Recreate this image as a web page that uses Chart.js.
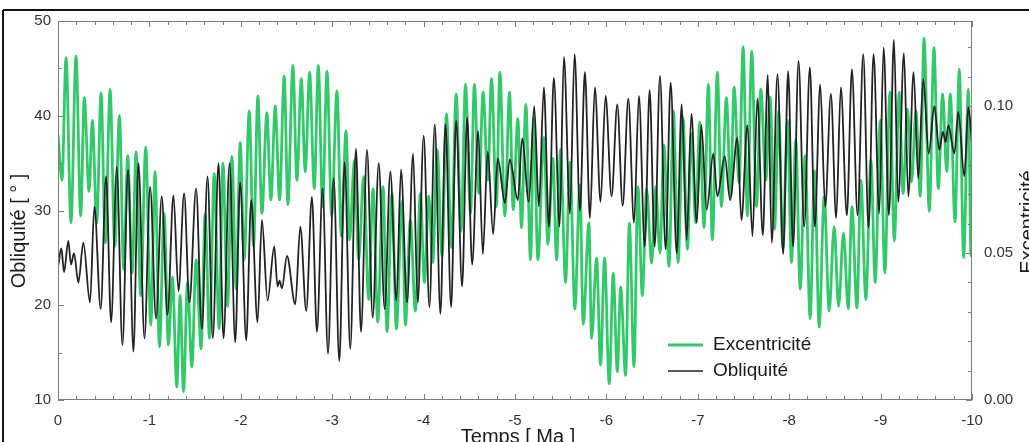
<!DOCTYPE html>
<html>
<head>
<meta charset="utf-8">
<title>Obliquité et excentricité</title>
<script src="https://cdn.jsdelivr.net/npm/chart.js@4.4.1/dist/chart.umd.min.js"></script>
<style>
    html, body { margin: 0; padding: 0; background: #fff; }
    canvas { display: block; }
</style>
</head>
<body>
<canvas id="orbitChart" width="1029" height="442"></canvas>
<script>
// Obliquité (degrés)
const oblTime = [
    0, -0.037, -0.066, -0.113, -0.142, -0.175, -0.223, -0.277, -0.350, -0.398,
    -0.467, -0.526, -0.581, -0.643, -0.705, -0.767, -0.825, -0.880, -0.946, -1.008,
    -1.073, -1.135, -1.198, -1.263, -1.318, -1.380, -1.438, -1.511, -1.574, -1.636,
    -1.694, -1.756, -1.811, -1.877, -1.939, -1.993, -2.059, -2.114, -2.183, -2.231,
    -2.293, -2.366, -2.402, -2.424, -2.450, -2.505, -2.596, -2.651, -2.716, -2.778,
    -2.833, -2.895, -2.954, -3.016, -3.078, -3.136, -3.198, -3.260, -3.315, -3.381,
    -3.443, -3.509, -3.574, -3.636, -3.702, -3.753, -3.819, -3.885, -3.936, -4.001,
    -4.064, -4.122, -4.184, -4.239, -4.301, -4.356, -4.421, -4.476, -4.531, -4.597,
    -4.648, -4.702, -4.761, -4.812, -4.889, -4.943, -5.031, -5.078, -5.151, -5.210,
    -5.261, -5.316, -5.371, -5.425, -5.488, -5.535, -5.601, -5.652, -5.710, -5.765,
    -5.820, -5.874, -5.936, -5.991, -6.057, -6.119, -6.178, -6.240, -6.302, -6.356,
    -6.419, -6.473, -6.528, -6.586, -6.648, -6.703, -6.769, -6.824, -6.878, -6.930,
    -6.988, -7.039, -7.097, -7.170, -7.214, -7.295, -7.353, -7.433, -7.477, -7.543,
    -7.598, -7.652, -7.711, -7.766, -7.809, -7.872, -7.934, -7.988, -8.043, -8.102,
    -8.164, -8.226, -8.280, -8.339, -8.394, -8.456, -8.514, -8.565, -8.631, -8.686,
    -8.748, -8.810, -8.868, -8.923, -8.985, -9.033, -9.091, -9.146, -9.193, -9.255,
    -9.303, -9.361, -9.412, -9.467, -9.526, -9.588, -9.642, -9.682, -9.712, -9.741,
    -9.807, -9.850, -9.916, -9.960, -10.0
];
const oblValues = [
    24.0, 26.0, 23.5, 26.8, 24.3, 25.5, 22.4, 26.6, 20.3, 30.4,
    19.6, 33.6, 18.2, 34.6, 15.8, 34.3, 15.1, 35.0, 16.5, 32.5,
    18.6, 31.5, 19.0, 31.6, 21.5, 31.8, 20.3, 32.3, 17.5, 33.6,
    16.5, 35.0, 16.5, 35.0, 16.1, 33.0, 16.3, 31.1, 18.2, 29.0,
    20.5, 26.2, 22.0, 22.6, 21.8, 25.2, 20.1, 28.3, 19.4, 31.4,
    17.2, 32.3, 14.9, 33.4, 14.1, 35.1, 15.4, 36.5, 17.2, 36.4,
    18.7, 35.0, 19.6, 34.1, 20.5, 34.3, 20.3, 36.0, 20.3, 37.9,
    19.8, 39.1, 19.1, 39.1, 19.8, 39.5, 22.0, 39.8, 24.3, 38.4,
    25.4, 36.2, 27.5, 35.5, 30.8, 35.4, 31.1, 37.6, 30.9, 41.0,
    30.4, 43.0, 28.3, 44.0, 28.3, 46.2, 29.7, 46.5, 30.0, 44.6,
    29.2, 43.0, 30.9, 42.1, 31.5, 41.2, 30.5, 41.8, 28.7, 42.1,
    26.2, 42.7, 26.2, 44.2, 25.9, 43.5, 25.5, 41.2, 26.9, 40.2,
    28.7, 39.0, 30.1, 36.0, 31.5, 35.7, 31.1, 37.7, 29.0, 39.0,
    27.3, 41.8, 27.4, 44.3, 26.6, 44.4, 25.4, 44.7, 26.2, 45.8,
    28.3, 45.1, 28.3, 43.3, 30.4, 42.3, 29.2, 43.0, 29.5, 44.9,
    29.5, 46.5, 28.2, 46.5, 29.7, 47.2, 29.5, 48.0, 30.9, 46.6,
    31.5, 44.6, 33.4, 43.9, 36.0, 41.0, 36.4, 38.3, 37.2, 39.0,
    36.0, 40.4, 33.6, 40.9, 37.0
];

// Excentricité
const excTime = [
    0, -0.044, -0.088, -0.142, -0.197, -0.248, -0.288, -0.340, -0.376, -0.424,
    -0.471, -0.518, -0.570, -0.621, -0.672, -0.719, -0.763, -0.811, -0.854, -0.905,
    -0.960, -1.015, -1.062, -1.110, -1.161, -1.208, -1.252, -1.300, -1.336, -1.373,
    -1.417, -1.464, -1.511, -1.566, -1.610, -1.658, -1.709, -1.763, -1.804, -1.855,
    -1.902, -1.950, -1.993, -2.037, -2.092, -2.139, -2.187, -2.231, -2.285, -2.329,
    -2.377, -2.424, -2.475, -2.515, -2.570, -2.614, -2.662, -2.705, -2.753, -2.804,
    -2.848, -2.895, -2.943, -2.994, -3.052, -3.100, -3.151, -3.191, -3.242, -3.290,
    -3.344, -3.399, -3.447, -3.498, -3.556, -3.600, -3.655, -3.702, -3.764, -3.801,
    -3.855, -3.910, -3.965, -4.009, -4.056, -4.100, -4.148, -4.202, -4.250, -4.304,
    -4.356, -4.410, -4.458, -4.513, -4.556, -4.604, -4.651, -4.702, -4.743, -4.797,
    -4.834, -4.889, -4.940, -4.980, -5.031, -5.071, -5.119, -5.170, -5.206, -5.250,
    -5.316, -5.360, -5.414, -5.455, -5.498, -5.553, -5.601, -5.655, -5.710, -5.746,
    -5.809, -5.838, -5.893, -5.936, -5.980, -6.031, -6.075, -6.119, -6.156, -6.210,
    -6.251, -6.302, -6.345, -6.393, -6.440, -6.495, -6.539, -6.586, -6.630, -6.685,
    -6.733, -6.784, -6.838, -6.886, -6.930, -6.977, -7.021, -7.068, -7.116, -7.159,
    -7.214, -7.258, -7.313, -7.360, -7.397, -7.452, -7.496, -7.543, -7.590, -7.642,
    -7.689, -7.744, -7.791, -7.839, -7.886, -7.930, -7.981, -8.025, -8.072, -8.120,
    -8.174, -8.229, -8.277, -8.328, -8.383, -8.437, -8.492, -8.540, -8.594, -8.646,
    -8.686, -8.741, -8.784, -8.839, -8.894, -8.941, -8.996, -9.047, -9.102, -9.150,
    -9.204, -9.245, -9.295, -9.339, -9.387, -9.434, -9.475, -9.533, -9.584, -9.631,
    -9.679, -9.723, -9.763, -9.814, -9.861, -9.909, -9.960, -9.989, -10.0
];
const excValues = [
    0.0903, 0.0748, 0.1165, 0.0603, 0.1171, 0.0626, 0.1029, 0.0710, 0.0952, 0.0603,
    0.1045, 0.0535, 0.1058, 0.0523, 0.0968, 0.0445, 0.0832, 0.0432, 0.0845, 0.0355,
    0.0861, 0.0255, 0.0777, 0.0181, 0.0635, 0.0187, 0.0419, 0.0045, 0.0355, 0.0029,
    0.0400, 0.0113, 0.0477, 0.0174, 0.0635, 0.0210, 0.0771, 0.0242, 0.0806, 0.0319,
    0.0829, 0.0377, 0.0877, 0.0477, 0.0984, 0.0523, 0.1035, 0.0635, 0.0977, 0.0681,
    0.1000, 0.0681, 0.1103, 0.0665, 0.1139, 0.0748, 0.1094, 0.0777, 0.1116, 0.0719,
    0.1139, 0.0658, 0.1119, 0.0626, 0.1052, 0.0558, 0.0916, 0.0545, 0.0816, 0.0477,
    0.0761, 0.0342, 0.0719, 0.0265, 0.0726, 0.0232, 0.0703, 0.0242, 0.0677, 0.0255,
    0.0613, 0.0303, 0.0703, 0.0400, 0.0694, 0.0468, 0.0852, 0.0490, 0.0974, 0.0519,
    0.1042, 0.0574, 0.1074, 0.0635, 0.1074, 0.0703, 0.1048, 0.0748, 0.1094, 0.0658,
    0.1116, 0.0626, 0.1048, 0.0648, 0.0958, 0.0587, 0.1006, 0.0477, 0.0961, 0.0477,
    0.0894, 0.0529, 0.0823, 0.0477, 0.0852, 0.0400, 0.0810, 0.0310, 0.0732, 0.0258,
    0.0603, 0.0210, 0.0484, 0.0119, 0.0484, 0.0055, 0.0432, 0.0097, 0.0384, 0.0084,
    0.0603, 0.0113, 0.0726, 0.0355, 0.0719, 0.0465, 0.0726, 0.0500, 0.0868, 0.0455,
    0.0984, 0.0468, 0.0961, 0.0513, 0.0906, 0.0603, 0.0945, 0.0587, 0.1074, 0.0545,
    0.1116, 0.0658, 0.1029, 0.0694, 0.1065, 0.0739, 0.1203, 0.0626, 0.1187, 0.0658,
    0.1058, 0.0748, 0.1032, 0.0581, 0.0984, 0.0516, 0.0952, 0.0468, 0.0887, 0.0377,
    0.0832, 0.0277, 0.0781, 0.0248, 0.0694, 0.0303, 0.0590, 0.0319, 0.0568, 0.0310,
    0.0658, 0.0313, 0.0748, 0.0342, 0.0816, 0.0400, 0.0952, 0.0432, 0.1048, 0.0542,
    0.1048, 0.0703, 0.0990, 0.0742, 0.0984, 0.0694, 0.1232, 0.0642, 0.1200, 0.0719,
    0.1042, 0.0777, 0.1042, 0.0606, 0.1126, 0.0484, 0.1058, 0.0490, 0.0490
];

// Tick labels
const timeTicks = [0, -1, -2, -3, -4, -5, -6, -7, -8, -9, -10];
const oblTicks = [10, 20, 30, 40, 50];
const excTicks = [0, 0.05, 0.10];

const FONT = "'Liberation Sans', Arial, sans-serif";
const GREEN = '#33c96b';
const BLACK = '#222222';

const toPoints = (xs, ys) => xs.map((x, i) => ({ x: x, y: ys[i] }));

// Frame, inward ticks, titles and legend
const decorPlugin = {
    id: 'decor',
    afterDraw(chart) {
        const ctx = chart.ctx;
        const a = chart.chartArea;
        const x = chart.scales.x;
        const yl = chart.scales.yObl;
        const yr = chart.scales.yExc;

        ctx.save();
        ctx.strokeStyle = '#7d7d7d';
        ctx.lineWidth = 1;
        ctx.strokeRect(a.left + 0.5, a.top + 0.5, a.right - a.left - 1, a.bottom - a.top - 1);

        const seg = (x1, y1, x2, y2) => {
            ctx.beginPath();
            ctx.moveTo(x1, y1);
            ctx.lineTo(x2, y2);
            ctx.stroke();
        };

        // time ticks every 0.2 Ma, top and bottom
        for (let i = 0; i <= 50; i++) {
            const px = Math.round(x.getPixelForValue(-i * 0.2)) + 0.5;
            const len = i % 5 === 0 ? 6 : 4;
            seg(px, a.bottom, px, a.bottom - len);
            seg(px, a.top, px, a.top + len);
        }
        // obliquity ticks every 5 degrees
        for (let v = 10; v <= 50; v += 5) {
            const py = Math.round(yl.getPixelForValue(v)) + 0.5;
            seg(a.left, py, a.left + (v % 10 === 0 ? 6 : 4), py);
        }
        // eccentricity ticks every 0.01
        for (let i = 0; i <= 12; i++) {
            const py = Math.round(yr.getPixelForValue(i * 0.01)) + 0.5;
            seg(a.right, py, a.right - (i % 5 === 0 ? 6 : 4), py);
        }

        // axis titles
        ctx.fillStyle = '#1a1a1a';
        ctx.font = '20px ' + FONT;
        ctx.textAlign = 'center';
        ctx.textBaseline = 'alphabetic';
        ctx.fillText('Temps [ Ma ]', 518, 443);

        ctx.save();
        ctx.translate(25, 231);
        ctx.rotate(-Math.PI / 2);
        ctx.fillText('Obliquité [ ° ]', 0, 0);
        ctx.restore();

        ctx.save();
        ctx.translate(1034, 222);
        ctx.rotate(-Math.PI / 2);
        ctx.fillText('Excentricité', 0, 0);
        ctx.restore();

        // legend, Excentricité first
        const items = [chart.data.datasets[1], chart.data.datasets[0]];
        ctx.font = '19px ' + FONT;
        ctx.textAlign = 'left';
        ctx.textBaseline = 'middle';
        items.forEach((ds, i) => {
            const ly = 345 + i * 26;
            ctx.strokeStyle = ds.borderColor;
            ctx.lineWidth = i === 0 ? 3 : 1.6;
            seg(668, ly, 703, ly);
            ctx.fillStyle = '#1a1a1a';
            ctx.fillText(ds.label, 713, ly);
        });

        // outer figure border
        ctx.strokeStyle = '#111';
        ctx.lineWidth = 2;
        seg(3, 10, 1029, 10);
        seg(3, 10, 3, 442);
        ctx.restore();
    }
};

const canvas = document.getElementById('orbitChart');
new Chart(canvas.getContext('2d'), {
    type: 'line',
    data: {
        datasets: [
            {
                label: 'Obliquité',
                data: toPoints(oblTime, oblValues),
                yAxisID: 'yObl',
                borderColor: BLACK,
                borderWidth: 1.8,
                pointRadius: 0,
                cubicInterpolationMode: 'monotone'
            },
            {
                label: 'Excentricité',
                data: toPoints(excTime, excValues),
                yAxisID: 'yExc',
                borderColor: GREEN,
                borderWidth: 2.8,
                pointRadius: 0,
                cubicInterpolationMode: 'monotone'
            }
        ]
    },
    options: {
        responsive: false,
        animation: false,
        layout: { padding: { top: 18, left: 0, right: 0, bottom: 0 } },
        plugins: {
            legend: { display: false },
            tooltip: { enabled: false }
        },
        scales: {
            x: {
                type: 'linear',
                reverse: true,
                min: -10,
                max: 0,
                grid: { display: false, drawTicks: false },
                border: { display: false },
                afterBuildTicks: (s) => { s.ticks = timeTicks.map(v => ({ value: v })); },
                afterFit: (s) => { s.height = 42; },
                ticks: {
                    padding: 12,
                    maxRotation: 0,
                    color: '#333',
                    font: { family: FONT, size: 15 },
                    callback: (v) => String(v)
                }
            },
            yObl: {
                type: 'linear',
                position: 'left',
                min: 10,
                max: 50,
                grid: { display: false, drawTicks: false },
                border: { display: false },
                afterBuildTicks: (s) => { s.ticks = oblTicks.map(v => ({ value: v })); },
                afterFit: (s) => { s.width = 58; },
                ticks: {
                    padding: 7,
                    color: '#333',
                    font: { family: FONT, size: 15 },
                    callback: (v) => String(v)
                }
            },
            yExc: {
                type: 'linear',
                position: 'right',
                min: 0,
                max: 0.129,
                grid: { display: false, drawTicks: false },
                border: { display: false },
                afterBuildTicks: (s) => { s.ticks = excTicks.map(v => ({ value: v })); },
                afterFit: (s) => { s.width = 57; },
                ticks: {
                    padding: 12,
                    color: '#333',
                    font: { family: FONT, size: 15 },
                    callback: (v) => v.toFixed(2)
                }
            }
        }
    },
    plugins: [decorPlugin]
});
</script>
</body>
</html>
